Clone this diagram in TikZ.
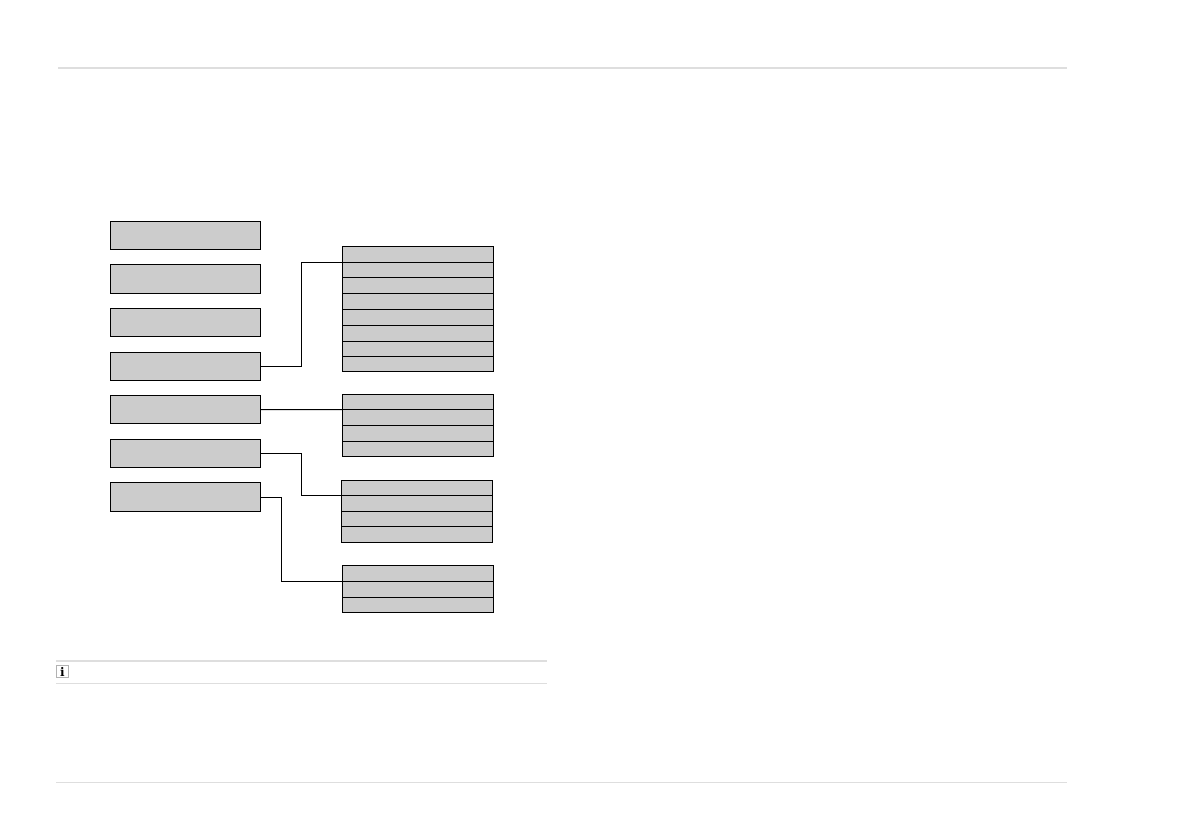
\documentclass[tikz,border=0pt]{standalone}
\usepackage{fontspec}
\setmainfont{DejaVu Serif}
\definecolor{boxgray}{HTML}{CCCCCC}
\definecolor{rulegray}{HTML}{DEDEDE}
\tikzset{
  x=1bp,y=-1bp,
  boxbase/.style={draw=black,line width=1bp,fill=boxgray,inner sep=0pt,outer sep=0pt,anchor=north west},
  menubox/.style={boxbase,minimum width=150bp},
  subbox/.style={boxbase,minimum width=151bp},
  wire/.style={draw=black,line width=1bp,line join=miter},
  pagerule/.style={draw=rulegray,line width=1.1bp},
  iconbox/.style={draw=black!30,line width=.7bp,fill=white,minimum width=12.5bp,minimum height=12.5bp,inner sep=0pt,font=\bfseries\fontsize{12}{12}\selectfont}
}
\begin{document}
\begin{tikzpicture}
\useasboundingbox (0,0) rectangle (1191,839);
% page rules
\coordinate (t1) at (58,68); \coordinate (t2) at (1067,68);
\coordinate (b1) at (56,782.5); \coordinate (b2) at (1067,782.5);
\coordinate (n1) at (56,661); \coordinate (n2) at (547,661);
\coordinate (m1) at (56,683.5); \coordinate (m2) at (547,683.5);
\draw[pagerule] (t1) -- (t2);
\draw[pagerule] (b1) -- (b2);
\draw[pagerule] (n1) -- (n2);
\draw[pagerule] (m1) -- (m2);
\node[iconbox] (info) at (62.5,671.5) {i};
% left column
\node[menubox,minimum height=28bp] (L1) at (110.5,221.5) {};
\node[menubox,minimum height=29bp] (L2) at (110.5,264.5) {};
\node[menubox,minimum height=28bp] (L3) at (110.5,308.5) {};
\node[menubox,minimum height=28bp] (L4) at (110.5,352.5) {};
\node[menubox,minimum height=28bp] (L5) at (110.5,395.5) {};
\node[menubox,minimum height=28bp] (L6) at (110.5,439.5) {};
\node[menubox,minimum height=29bp] (L7) at (110.5,482.5) {};
% stack A
\node[subbox,minimum height=16bp] (A1) at (342.5,246.5) {};
\node[subbox,minimum height=15bp] (A2) at (342.5,262.5) {};
\node[subbox,minimum height=16bp] (A3) at (342.5,277.5) {};
\node[subbox,minimum height=16bp] (A4) at (342.5,293.5) {};
\node[subbox,minimum height=16bp] (A5) at (342.5,309.5) {};
\node[subbox,minimum height=16bp] (A6) at (342.5,325.5) {};
\node[subbox,minimum height=15bp] (A7) at (342.5,341.5) {};
\node[subbox,minimum height=15bp] (A8) at (342.5,356.5) {};
% stack B
\node[subbox,minimum height=15bp] (B1) at (342.5,394.5) {};
\node[subbox,minimum height=16bp] (B2) at (342.5,409.5) {};
\node[subbox,minimum height=16bp] (B3) at (342.5,425.5) {};
\node[subbox,minimum height=15bp] (B4) at (342.5,441.5) {};
% stack C
\node[subbox,minimum height=15bp] (C1) at (341.5,480.5) {};
\node[subbox,minimum height=16bp] (C2) at (341.5,495.5) {};
\node[subbox,minimum height=15bp] (C3) at (341.5,511.5) {};
\node[subbox,minimum height=16bp] (C4) at (341.5,526.5) {};
% stack D
\node[subbox,minimum height=16bp] (D1) at (342.5,565.5) {};
\node[subbox,minimum height=16bp] (D2) at (342.5,581.5) {};
\node[subbox,minimum height=15bp] (D3) at (342.5,597.5) {};
% connectors
\coordinate (jA) at (301.5,0);
\coordinate (jC) at (301.5,0);
\coordinate (jD) at (281.5,0);
\draw[wire] (L4.east) -- (L4.east -| jA) -- (A1.south west -| jA) -- (A1.south west);
\draw[wire] (L5.east) -- (B1.south west);
\draw[wire] (L6.east) -- (L6.east -| jC) -- (C1.south west -| jC) -- (C1.south west);
\draw[wire] ([yshift=-.5bp]L7.east) -- ([yshift=-.5bp]L7.east -| jD) -- (D1.south west -| jD) -- (D1.south west);
\end{tikzpicture}
\end{document}
